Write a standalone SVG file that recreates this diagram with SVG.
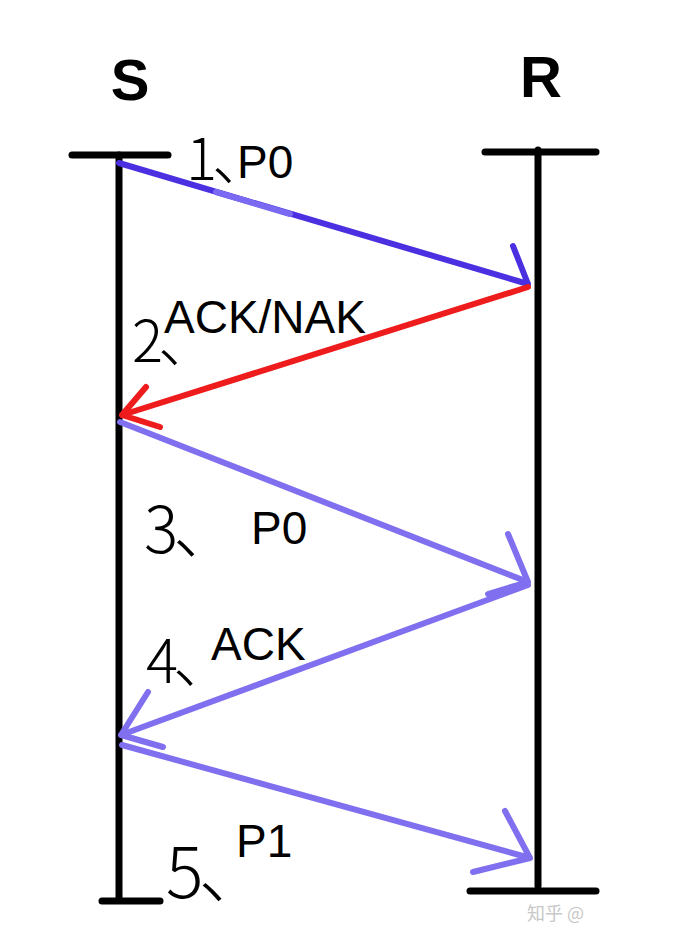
<svg xmlns="http://www.w3.org/2000/svg" width="678" height="944" viewBox="0 0 678 944">
<style>
.ln{stroke:#000;stroke-width:7;stroke-linecap:round;fill:none}
.ar{stroke-width:6;stroke-linecap:round;stroke-linejoin:round;fill:none}
.lbl{font-family:"Liberation Sans",Arial,sans-serif;font-size:46px;fill:#000}
.hw{font-family:"Noto Sans CJK SC","Liberation Sans",sans-serif;font-weight:200;fill:#000;font-feature-settings:"halt";letter-spacing:-5px}
.hd{font-family:"Liberation Sans",Arial,sans-serif;font-size:58px;font-weight:bold;fill:#000;text-anchor:middle}
</style>
<rect width="678" height="944" fill="#fff"/>
<g id="S">
<text class="hd" x="130" y="100">S</text>
<line class="ln" x1="72" y1="155" x2="168" y2="155"/>
<line class="ln" x1="119" y1="155" x2="119" y2="900"/>
<line class="ln" x1="102" y1="901" x2="160" y2="901"/>
</g>
<g id="R">
<text class="hd" x="541" y="97" font-size="60">R</text>
<line class="ln" x1="485" y1="152" x2="596" y2="152"/>
<line class="ln" x1="538" y1="150" x2="538" y2="886"/>
<line class="ln" x1="470" y1="891" x2="596" y2="891"/>
</g>
<g id="connectors">
<g id="m1">
<path class="ar" stroke="#4a30e0" d="M119 163 L528 284 M513 246 L528 284"/>
<line class="ar" stroke="#7a6af2" x1="216" y1="192" x2="290" y2="214"/>
</g>
<g id="m2"><path class="ar" stroke="#ee1c1c" stroke-width="7" d="M528 287 L122 415 M146 387 L122 415 L160 427"/></g>
<g id="m3"><path class="ar" stroke="#8070f0" d="M120 422 L528 582 M508 534 L528 582 L488 594"/></g>
<g id="m4"><path class="ar" stroke="#8070f0" d="M528 585 L121 735 M148 692 L121 735 L163 747"/></g>
<g id="m5"><path class="ar" stroke="#8070f0" d="M122 745 L530 858 M505 811 L530 858 L473 872"/></g>
</g>
<g id="labels">
<text class="lbl" x="237" y="178">P0</text>
<text class="lbl" x="164" y="333">ACK/NAK</text>
<text class="lbl" x="251" y="544">P0</text>
<text class="lbl" x="211" y="660">ACK</text>
<text class="lbl" x="236" y="857">P1</text>
</g>
<g id="numbers">
<text class="hw" x="186" y="180" font-size="58">1、</text>
<text class="hw" x="132" y="362" font-size="58">2、</text>
<text class="hw" x="144" y="553" font-size="64">3、</text>
<text class="hw" x="146" y="683" font-size="60">4、</text>
<text class="hw" x="166" y="898" font-size="70">5、</text>
</g>
<text x="527" y="920" font-family="Noto Sans CJK SC,sans-serif" font-size="18" fill="#c8c8c8">知乎 @</text>
</svg>
